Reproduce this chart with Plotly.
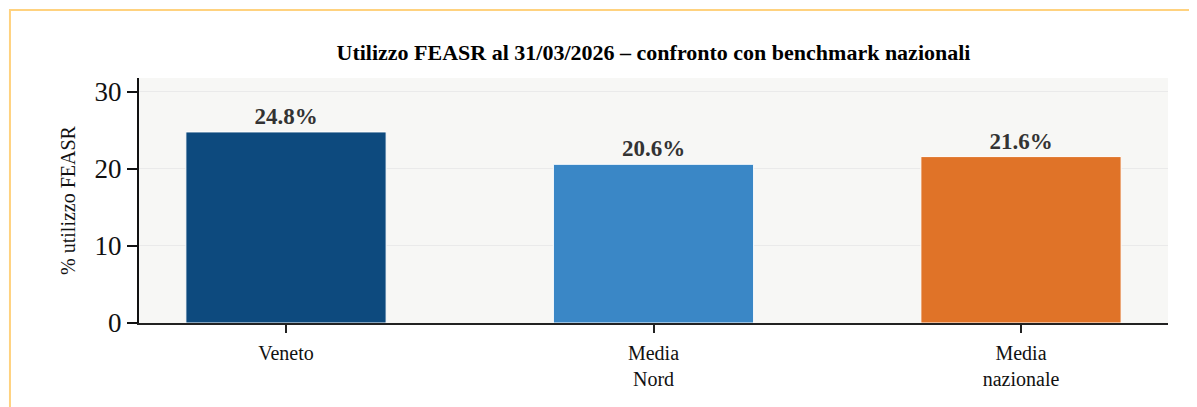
import plotly.graph_objects as go

categories = ["Veneto", "Media<br>Nord", "Media<br>nazionale"]
values = [24.8, 20.6, 21.6]
labels = ["24.8%", "20.6%", "21.6%"]
colors = ["#0D4A7E", "#3A87C6", "#E07328"]

title = "Utilizzo FEASR al 31/03/2026 – confronto con benchmark nazionali"
y_title = "% utilizzo FEASR"
serif = "Liberation Serif, Times New Roman, serif"

fig = go.Figure()
fig.add_trace(go.Bar(
    x=list(range(len(categories))),
    y=values,
    text=labels,
    textposition="outside",
    textfont=dict(family=serif, size=23, color="#333333", weight="bold"),
    marker=dict(color=colors, line=dict(color="white", width=1)),
    width=0.545,
    cliponaxis=False,
    hoverinfo="skip",
))

# outer frame like the page container
fig.add_shape(type="rect", xref="paper", yref="paper",
              x0=-0.1254, x1=1.2, y0=-0.6, y1=1.2776,
              line=dict(color="#FFD27F", width=2), layer="below")

fig.update_layout(
    width=1197, height=407,
    margin=dict(l=131, r=37, t=70, b=92),
    paper_bgcolor="white",
    plot_bgcolor="#F7F7F5",
    showlegend=False,
    title=dict(text=f"<b>{title}</b>", x=0.5, xref="paper", yref="container", y=0.892,
               yanchor="middle", font=dict(family=serif, size=22, color="black")),
    font=dict(family=serif, color="black"),
    xaxis=dict(
        range=[-0.4, 2.4],
        tickmode="array",
        tickvals=list(range(len(categories))),
        ticktext=categories,
        tickfont=dict(family=serif, size=20, color="#111111"),
        ticks="outside", ticklen=8, tickcolor="#222222", tickwidth=1.5,
        ticklabelstandoff=3,
        showline=True, linecolor="#222222", linewidth=2,
        showgrid=False, zeroline=False,
    ),
    yaxis=dict(
        range=[0, 31.8],
        tickvals=[0, 10, 20, 30],
        tickfont=dict(family=serif, size=27, color="#111111"),
        ticks="outside", ticklen=10, tickcolor="#111111", tickwidth=2,
        showline=True, linecolor="#111111", linewidth=2,
        showgrid=True, gridcolor="#EAEAEA", gridwidth=1,
        zeroline=False,
        title=dict(text=y_title, font=dict(family=serif, size=20, color="#111111"), standoff=14),
    ),
)

fig.write_html("out.html")
